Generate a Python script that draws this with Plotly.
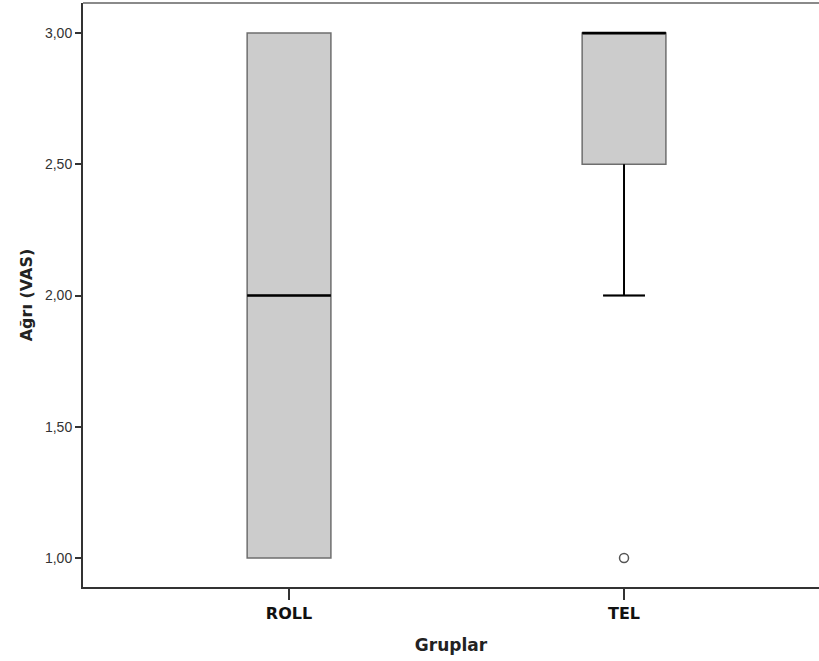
import plotly.graph_objects as go

groups = ["ROLL", "TEL"]
q1 = [1.0, 2.5]
median = [2.0, 3.0]
q3 = [3.0, 3.0]
lower_whisker = [1.0, 2.0]
upper_whisker = [3.0, 3.0]
outlier_group = ["TEL"]
outlier_value = [1.0]
y_ticks = [1.0, 1.5, 2.0, 2.5, 3.0]

xpos = list(range(len(groups)))
box_w = 0.25
cap_w = 0.125

fig = go.Figure()
fig.add_trace(go.Box(
    x=xpos, q1=q1, median=median, q3=q3,
    lowerfence=lower_whisker, upperfence=upper_whisker,
    width=box_w, whiskerwidth=0.5,
    fillcolor="#cccccc", line=dict(color="#6e6e6e", width=1.5),
    boxpoints=False, showlegend=False, hoverinfo="skip"))

# black median lines and whiskers
for i, g in enumerate(groups):
    fig.add_trace(go.Scatter(
        x=[xpos[i] - box_w / 2, xpos[i] + box_w / 2], y=[median[i], median[i]],
        mode="lines", line=dict(color="black", width=2.5), showlegend=False, hoverinfo="skip"))
    if lower_whisker[i] < q1[i]:
        fig.add_trace(go.Scatter(
            x=[xpos[i], xpos[i], None, xpos[i] - cap_w / 2, xpos[i] + cap_w / 2],
            y=[q1[i], lower_whisker[i], None, lower_whisker[i], lower_whisker[i]],
            mode="lines", line=dict(color="black", width=2), showlegend=False, hoverinfo="skip"))
    if upper_whisker[i] > q3[i]:
        fig.add_trace(go.Scatter(
            x=[xpos[i], xpos[i], None, xpos[i] - cap_w / 2, xpos[i] + cap_w / 2],
            y=[q3[i], upper_whisker[i], None, upper_whisker[i], upper_whisker[i]],
            mode="lines", line=dict(color="black", width=2), showlegend=False, hoverinfo="skip"))

fig.add_trace(go.Scatter(
    x=[groups.index(g) for g in outlier_group], y=outlier_value,
    mode="markers", marker=dict(symbol="circle-open", size=9, color="#555555", line=dict(width=1.5)),
    showlegend=False, hoverinfo="skip"))

# top frame line
fig.add_shape(type="line", xref="paper", yref="paper", x0=0, x1=1, y0=1, y1=1,
              line=dict(color="#8a8a8a", width=2))

fig.update_layout(
    width=819, height=661,
    margin=dict(l=83, r=0, t=3, b=74),
    paper_bgcolor="white", plot_bgcolor="white",
    separators=",.",
    xaxis=dict(
        range=[-0.615, 1.582], tickvals=xpos, ticktext=groups,
        showgrid=False, zeroline=False, showline=True, linecolor="#333333", linewidth=2,
        ticks="outside", ticklen=11, tickwidth=2, tickcolor="#333333",
        tickfont=dict(family="DejaVu Sans", size=16, color="#111111", weight="bold"),
        title=dict(text="<b>Gruplar</b>", font=dict(family="DejaVu Sans", size=17, color="#222222"), standoff=17),
    ),
    yaxis=dict(
        range=[0.8895, 3.1143], tickvals=y_ticks, tickformat=".2f",
        showgrid=False, zeroline=False, showline=True, linecolor="#333333", linewidth=2,
        ticks="outside", ticklen=6, tickwidth=2, tickcolor="#333333",
        tickfont=dict(family="Liberation Sans, Arial", size=14, color="#333333"),
        title=dict(text="<b>Ağrı (VAS)</b>", font=dict(family="DejaVu Sans", size=16, color="#222222"), standoff=8),
    ),
)

fig.write_html("out.html")
